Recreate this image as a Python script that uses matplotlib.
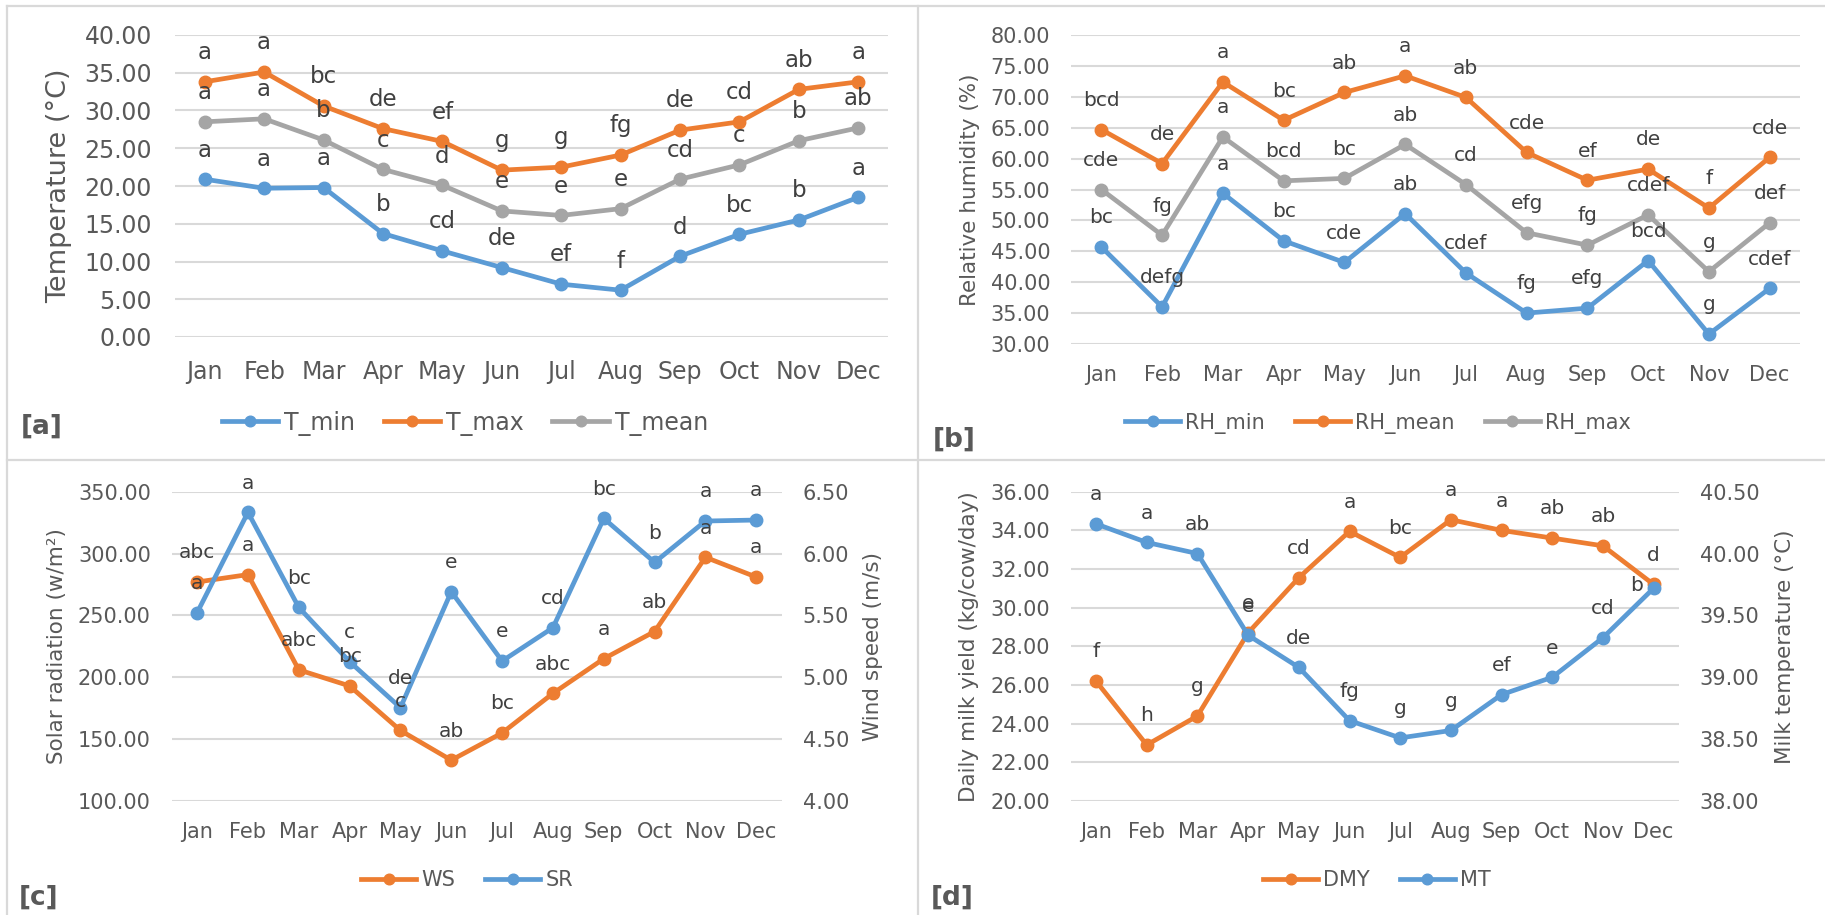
import matplotlib
matplotlib.use("Agg")
import matplotlib.pyplot as plt
from matplotlib.lines import Line2D
from matplotlib.ticker import FormatStrFormatter, MultipleLocator

MONTHS = ["Jan", "Feb", "Mar", "Apr", "May", "Jun",
          "Jul", "Aug", "Sep", "Oct", "Nov", "Dec"]

# [a] air temperature (°C)
T_MIN = [20.9, 19.7, 19.8, 13.7, 11.4, 9.2, 7.0, 6.2, 10.7, 13.6, 15.5, 18.5]
T_MAX = [33.8, 35.1, 30.6, 27.6, 25.9, 22.1, 22.5, 24.1, 27.4, 28.5, 32.8, 33.8]
T_MEAN = [28.5, 28.9, 26.1, 22.2, 20.1, 16.7, 16.1, 17.0, 20.9, 22.8, 26.0, 27.7]
T_MIN_LET = ["a", "a", "a", "b", "cd", "de", "ef", "f", "d", "bc", "b", "a"]
T_MAX_LET = ["a", "a", "bc", "de", "ef", "g", "g", "fg", "de", "cd", "ab", "a"]
T_MEAN_LET = ["a", "a", "b", "c", "d", "e", "e", "e", "cd", "c", "b", "ab"]

# [b] relative humidity (%)
RH_MIN = [45.7, 36.0, 54.4, 46.7, 43.2, 51.1, 41.5, 35.0, 35.8, 43.5, 31.6, 39.0]
RH_MEAN = [64.7, 59.2, 72.4, 66.2, 70.7, 73.4, 69.9, 61.0, 56.5, 58.3, 52.0, 60.2]
RH_MAX = [55.0, 47.6, 63.5, 56.4, 56.8, 62.3, 55.8, 48.0, 46.0, 50.9, 41.7, 49.6]
RH_MIN_LET = ["bc", "defg", "a", "bc", "cde", "ab", "cdef", "fg", "efg", "bcd", "g", "cdef"]
RH_MEAN_LET = ["bcd", "de", "a", "bc", "ab", "a", "ab", "cde", "ef", "de", "f", "cde"]
RH_MAX_LET = ["cde", "fg", "a", "bcd", "bc", "ab", "cd", "efg", "fg", "cdef", "g", "def"]

# [c] wind speed (m/s) and solar radiation (w/m²)
WS = [5.77, 5.83, 5.06, 4.93, 4.57, 4.33, 4.55, 4.87, 5.15, 5.37, 5.97, 5.81]
SR = [252.2, 333.3, 256.5, 212.6, 175.4, 269.2, 213.1, 240.1, 328.4, 292.9, 326.3, 327.1]
WS_LET = ["abc", "a", "abc", "bc", "c", "ab", "bc", "abc", "a", "ab", "a", "a"]
SR_LET = ["a", "a", "bc", "c", "de", "e", "e", "cd", "bc", "b", "a", "a"]

# [d] daily milk yield (kg/cow/day) and milk temperature (°C)
DMY = [26.2, 22.9, 24.4, 28.7, 31.55, 33.95, 32.6, 34.55, 34.0, 33.6, 33.2, 31.2]
MT = [40.24, 40.09, 40.0, 39.34, 39.08, 38.65, 38.51, 38.57, 38.86, 39.0, 39.32, 39.72]
DMY_LET = ["f", "h", "g", "e", "cd", "a", "bc", "a", "a", "ab", "ab", "d"]
MT_LET = ["a", "a", "ab", "e", "de", "fg", "g", "g", "ef", "e", "cd", "b"]

BLUE = "#5B9BD5"
ORANGE = "#ED7D31"
GRAY = "#A5A5A5"
GRID = "#D9D9D9"
TXT = "#595959"
LBL = "#404040"

W, H = 1825, 915
LW = 3.4
MS = 9
OFF = 21  # data label offset above the marker, points

plt.rcParams["font.family"] = "DejaVu Sans"
fig = plt.figure(figsize=(W / 100, H / 100), dpi=100)
fig.patch.set_facecolor("white")


def fx(px):
    return px / W


def fy(py):
    return 1 - py / H


def panel_axes(left, top, right, bottom):
    return fig.add_axes([fx(left), fy(bottom), (right - left) / W, (bottom - top) / H])


def style(ax, fs, pad, grid=True):
    for s in ax.spines.values():
        s.set_visible(False)
    ax.tick_params(length=0, labelsize=fs, labelcolor=TXT, pad=pad)
    ax.yaxis.set_major_formatter(FormatStrFormatter("%.2f"))
    ax.set_xlim(-0.5, 11.5)
    ax.set_xticks(range(12))
    ax.set_xticklabels(MONTHS)
    if grid:
        ax.grid(axis="y", color=GRID, lw=1.5)
        ax.set_axisbelow(True)
    ax.patch.set_visible(False)


def series(ax, vals, color, name):
    line, = ax.plot(range(12), vals, color=color, lw=LW, marker="o", ms=MS,
                    label=name, clip_on=False, zorder=3)
    return line


def letters(host, ax, vals, lets, fs, moved=None):
    moved = moved or {}
    for i, (v, t) in enumerate(zip(vals, lets)):
        dx, dy = moved.get(i, (0, OFF))
        host.annotate(t, xy=(i, v), xycoords=ax.transData, xytext=(dx, dy),
                      textcoords="offset points", ha="center", va="center",
                      fontsize=fs, color=LBL, annotation_clip=False, zorder=10)


def ylab(ax, text, xpx, axleft, axright, fs):
    ax.set_ylabel(text, fontsize=fs, color=TXT, rotation=90)
    ax.yaxis.label.set_va("center")
    ax.yaxis.set_label_coords((xpx - axleft) / (axright - axleft), 0.5)


def legend(handles, cx, cy, fs, hl, cs):
    fig.legend(handles=handles, loc="center", bbox_to_anchor=(fx(cx), fy(cy)),
               ncol=len(handles), frameon=False, fontsize=fs, labelcolor=TXT,
               handlelength=hl, handletextpad=0.25, columnspacing=cs,
               markerscale=0.85)


def tag(text, cx, cy):
    fig.text(fx(cx), fy(cy), text, fontsize=19, fontweight="bold", color=TXT,
             ha="center", va="center")


# panel frames
for xs, ys in [((7, 1825), (6, 6)), ((7, 7), (6, 915)),
               ((918, 918), (6, 915)), ((7, 1825), (460.5, 460.5))]:
    fig.add_artist(Line2D([fx(x) for x in xs], [fy(y) for y in ys],
                          color=GRID, lw=1.6, transform=fig.transFigure))

# ---- [a] temperature
ax = panel_axes(175, 35, 888, 337)
style(ax, 17, 16.5)
ax.set_ylim(0, 40)
ax.yaxis.set_major_locator(MultipleLocator(5))
la = [series(ax, T_MIN, BLUE, "T_min"),
      series(ax, T_MAX, ORANGE, "T_max"),
      series(ax, T_MEAN, GRAY, "T_mean")]
letters(ax, ax, T_MAX, T_MAX_LET, 16.5)
letters(ax, ax, T_MEAN, T_MEAN_LET, 16.5)
letters(ax, ax, T_MIN, T_MIN_LET, 16.5)
ylab(ax, "Temperature (°C)", 59, 175, 888, 19.5)
legend(la, 465, 423, 17, 2.4, 1.2)
tag("[a]", 42, 427)

# ---- [b] relative humidity
ax = panel_axes(1071, 35, 1800, 344)
style(ax, 15, 15)
ax.set_ylim(30, 80)
ax.yaxis.set_major_locator(MultipleLocator(5))
lb = [series(ax, RH_MIN, BLUE, "RH_min"),
      series(ax, RH_MEAN, ORANGE, "RH_mean"),
      series(ax, RH_MAX, GRAY, "RH_max")]
letters(ax, ax, RH_MEAN, RH_MEAN_LET, 14.5)
letters(ax, ax, RH_MAX, RH_MAX_LET, 14.5)
letters(ax, ax, RH_MIN, RH_MIN_LET, 14.5)
ylab(ax, "Relative humidity (%)", 970, 1071, 1800, 15.5)
legend(lb, 1378, 423, 15, 2.64, 1.44)
tag("[b]", 954, 440)

# ---- [c] wind speed / solar radiation
# gridded base axes carries WS on the right scale, SR sits on top with the left scale
ax = panel_axes(171.7, 491.7, 781.7, 801)
style(ax, 15, 15)
ax.set_ylim(4.0, 6.5)
ax.yaxis.set_major_locator(MultipleLocator(0.5))
top = ax.twinx()
style(top, 15, 15, grid=False)
top.set_ylim(100, 350)
top.yaxis.set_major_locator(MultipleLocator(50))
# swap sides after twinx, which resets the parent to the left
ax.yaxis.tick_right()
ax.yaxis.set_label_position("right")
top.yaxis.tick_left()
top.yaxis.set_label_position("left")
lc = [series(ax, WS, ORANGE, "WS"), series(top, SR, BLUE, "SR")]
letters(top, ax, WS, WS_LET, 14.5)
letters(top, top, SR, SR_LET, 14.5)
ylab(top, "Solar radiation (w/m²)", 57, 171.7, 781.7, 15.5)
ylab(ax, "Wind speed (m/s)", 873, 171.7, 781.7, 15.5)
legend(lc, 467, 880, 15, 2.64, 1.44)
tag("[c]", 39, 898)

# ---- [d] milk yield / milk temperature
ax = panel_axes(1070.7, 491.7, 1679, 801)
style(ax, 15, 15)
ax.set_ylim(20, 36)
ax.yaxis.set_major_locator(MultipleLocator(2))
top = ax.twinx()
style(top, 15, 15, grid=False)
top.set_ylim(38.0, 40.5)
top.yaxis.set_major_locator(MultipleLocator(0.5))
ld = [series(ax, DMY, ORANGE, "DMY"), series(top, MT, BLUE, "MT")]
letters(top, ax, DMY, DMY_LET, 14.5)
letters(top, top, MT, MT_LET, 14.5, moved={11: (-12.5, 2)})
ylab(ax, "Daily milk yield (kg/cow/day)", 969, 1070.7, 1679, 15.5)
ylab(top, "Milk temperature (°C)", 1785, 1070.7, 1679, 15.5)
legend(ld, 1377, 880, 15, 2.64, 1.44)
tag("[d]", 952, 898)

fig.savefig("out.png", dpi=100, facecolor="white")
